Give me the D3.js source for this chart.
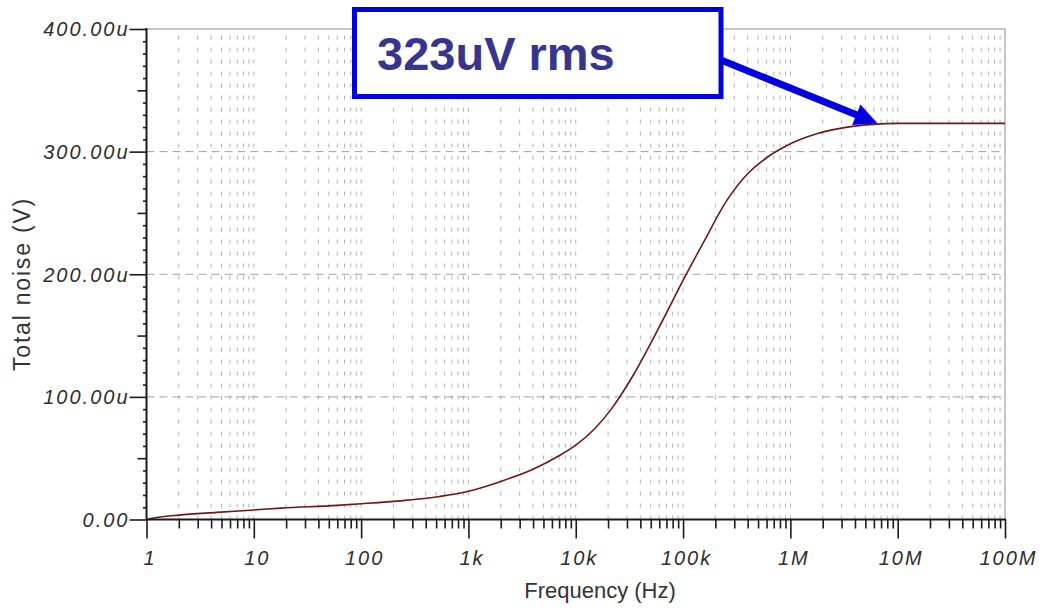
<!DOCTYPE html>
<html>
<head>
<meta charset="utf-8">
<script src="https://cdn.jsdelivr.net/npm/d3@7"></script>
<style>
  html, body { margin: 0; padding: 0; background: #fff; }
  svg { display: block; }
</style>
</head>
<body>
<svg id="chart" width="1057" height="608"></svg>
<script>
// ---- data (frequency in Hz, total noise in µV) ----
const freqs = [1, 1.25, 2, 4.5, 10, 18, 60, 100, 230, 540, 1000, 2000, 4000, 7000, 10000,
  15000, 21000, 34000, 60000, 100000, 155000, 255000, 400000, 600000, 930000, 1.76e6,
  3.4e6, 6e6, 1e7, 1e8];
const noise = [0, 1.6, 3.6, 5.8, 7.8, 9.3, 11.5, 12.8, 15.2, 18.8, 23, 31, 41, 52, 60.6,
  74, 89, 117, 157, 195, 226, 260, 282, 295, 305, 314.5,
  320, 322.2, 323, 323];
const xTickValues = [1, 10, 100, 1e3, 1e4, 1e5, 1e6, 1e7, 1e8];
const xTickLabels = ["1", "10", "100", "1k", "10k", "100k", "1M", "10M", "100M"];
const yTickValues = [0, 100, 200, 300, 400];
const yTickLabels = ["0.00", "100.00u", "200.00u", "300.00u", "400.00u"];
const xTitle = "Frequency (Hz)";
const yTitle = "Total noise (V)";
const annotationText = "323uV rms";
const annotationFreq = 6.5e6;
const annotationValue = 323;

// ---- layout ----
const svg = d3.select("#chart");
const L = 146.5, R = 1005, T = 29, B = 519.5;
const x = d3.scaleLog().domain([1, 1e8]).range([L, R]);
const y = d3.scaleLinear().domain([0, 400]).range([B, T]);

const minorX = [];
for (let d = 1; d < 1e8; d *= 10) for (let k = 2; k <= 9; k++) minorX.push(d * k);
const midY = [50, 150, 250, 350];
const minorY = d3.range(0, 401, 10).filter(v => v % 50 !== 0);

// grid
const grid = svg.append("g");
grid.selectAll("line.vg").data(minorX.concat(xTickValues.slice(1, -1))).join("line")
  .attr("x1", d => x(d)).attr("x2", d => x(d)).attr("y1", B).attr("y2", T)
  .attr("stroke", "#b0b0b0").attr("stroke-width", 1).attr("stroke-dasharray", "4,8");
grid.selectAll("line.hg").data(yTickValues.slice(1, -1)).join("line")
  .attr("x1", L).attr("x2", R).attr("y1", d => y(d)).attr("y2", d => y(d))
  .attr("stroke", "#a0a0a0").attr("stroke-width", 1).attr("stroke-dasharray", "8,5");
// top/right border
svg.append("path").attr("d", `M${L},${T}H${R}V${B}`)
  .attr("fill", "none").attr("stroke", "#b4b4b4").attr("stroke-width", 1.5);

// curve
const pts = freqs.map((f, i) => [f, noise[i]]);
svg.append("path").datum(pts)
  .attr("fill", "none").attr("stroke", "#6e1818").attr("stroke-width", 1.6)
  .attr("d", d3.line().x(d => x(d[0])).y(d => y(d[1])).curve(d3.curveMonotoneX));

// axes
const axCol = "#1a1a1a";
function styleAxis(g) {
  g.select(".domain").remove();
  g.selectAll(".tick line").attr("stroke", axCol).attr("stroke-width", 1.6);
}
svg.append("g").attr("transform", `translate(${L},0)`)
  .call(d3.axisLeft(y).tickValues(minorY).tickSize(3.5).tickFormat("")).call(styleAxis);
svg.append("g").attr("transform", `translate(${L},0)`)
  .call(d3.axisLeft(y).tickValues(midY).tickSize(9).tickFormat("")).call(styleAxis);
const yAx = svg.append("g").attr("transform", `translate(${L},0)`)
  .call(d3.axisLeft(y).tickValues(yTickValues).tickSize(17).tickPadding(0)
    .tickFormat((d, i) => yTickLabels[i])).call(styleAxis);
yAx.selectAll("text").attr("font-family", "Liberation Sans, Arial, sans-serif")
  .attr("font-style", "italic").attr("font-size", 20).attr("fill", "#2e2e2e")
  .style("letter-spacing", "2px").attr("dy", "0.34em");

svg.append("g").attr("transform", `translate(0,${B})`)
  .call(d3.axisBottom(x).tickValues(minorX).tickSize(9).tickFormat("")).call(styleAxis);
const xAx = svg.append("g").attr("transform", `translate(0,${B})`)
  .call(d3.axisBottom(x).tickValues(xTickValues).tickSize(19)
    .tickFormat((d, i) => xTickLabels[i])).call(styleAxis);
xAx.selectAll("text").attr("font-family", "Liberation Sans, Arial, sans-serif")
  .attr("font-style", "italic").attr("font-size", 20).attr("fill", "#2e2e2e")
  .style("letter-spacing", "2px").attr("y", 31).attr("dx", 3).attr("dy", "0.71em");

// axis lines
svg.append("line").attr("x1", L).attr("x2", L).attr("y1", T - 1).attr("y2", B)
  .attr("stroke", axCol).attr("stroke-width", 2);
svg.append("line").attr("x1", L).attr("x2", R + 1).attr("y1", B).attr("y2", B)
  .attr("stroke", axCol).attr("stroke-width", 2);

// titles
svg.append("text").attr("x", 600).attr("y", 598).attr("text-anchor", "middle")
  .attr("font-family", "Liberation Sans, Arial, sans-serif").attr("font-size", 22)
  .attr("fill", "#333").text(xTitle);
svg.append("text").attr("transform", "translate(30,284) rotate(-90)")
  .attr("text-anchor", "middle")
  .attr("font-family", "Liberation Sans, Arial, sans-serif").attr("font-size", 23)
  .style("letter-spacing", "1.8px")
  .attr("fill", "#333").text(yTitle);

// annotation
const blue = "#0000e0";
const box = { x: 354.5, y: 9.5, w: 366.5, h: 87 };
svg.append("rect").attr("x", box.x).attr("y", box.y).attr("width", box.w).attr("height", box.h)
  .attr("fill", "#fff").attr("stroke", blue).attr("stroke-width", 5);
svg.append("text").attr("x", 377).attr("y", 70)
  .attr("font-family", "Liberation Sans, Arial, sans-serif").attr("font-weight", "bold")
  .attr("font-size", 47).attr("fill", "#363690").text(annotationText);

const tipX = x(annotationFreq), tipY = y(annotationValue);
const sx = box.x + box.w, sy = 60;
const ang = Math.atan2(tipY - sy, tipX - sx);
const headLen = 23, headHalf = 11;
const bx = tipX - headLen * Math.cos(ang), by = tipY - headLen * Math.sin(ang);
svg.append("line").attr("x1", sx).attr("y1", sy).attr("x2", bx + 2 * Math.cos(ang)).attr("y2", by + 2 * Math.sin(ang))
  .attr("stroke", blue).attr("stroke-width", 7);
svg.append("path")
  .attr("d", `M${tipX},${tipY}L${bx + headHalf * Math.sin(ang)},${by - headHalf * Math.cos(ang)}L${bx - headHalf * Math.sin(ang)},${by + headHalf * Math.cos(ang)}Z`)
  .attr("fill", blue);
</script>
</body>
</html>
